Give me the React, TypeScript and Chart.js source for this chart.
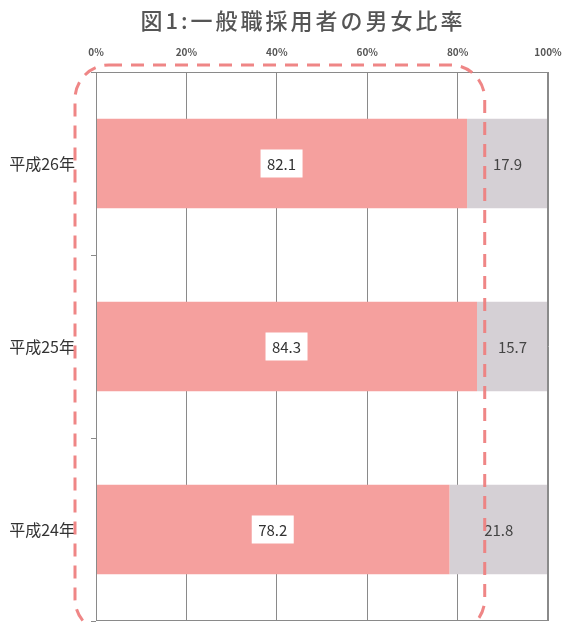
import React, { useEffect, useRef } from "react";
import { Chart, registerables } from "chart.js";

Chart.register(...registerables);

const titleText = "図1:一般職採用者の男女比率";
const categories = ["平成26年", "平成25年", "平成24年"];
const maleValues = [82.1, 84.3, 78.2];
const femaleValues = [17.9, 15.7, 21.8];
const xTickValues = [0, 20, 40, 60, 80, 100];

const FONT = '"Noto Sans CJK JP", "Noto Sans", sans-serif';

const zeroPad = (scale: any) => {
  scale.paddingLeft = 0;
  scale.paddingRight = 0;
  scale.paddingTop = 0;
  scale.paddingBottom = 0;
};

const decorPlugin = {
  id: "decor",
  afterDraw(chart: any) {
    const { ctx, chartArea } = chart;
    const xs = chart.scales.x;
    // title
    ctx.save();
    ctx.fillStyle = "#555";
    ctx.font = `500 22px ${FONT}`;
    ctx.textAlign = "center";
    ctx.textBaseline = "middle";
    try { (ctx as any).letterSpacing = "3px"; } catch (e) {}
    ctx.fillText(titleText, 303, 21);
    ctx.restore();

    // plot border
    ctx.save();
    ctx.strokeStyle = "#8a8a8a";
    ctx.lineWidth = 1;
    ctx.strokeRect(chartArea.left + 0.5, chartArea.top + 0.5, chartArea.right - chartArea.left - 1, chartArea.bottom - chartArea.top - 1);
    ctx.restore();

    // data labels
    const m0 = chart.getDatasetMeta(0);
    const m1 = chart.getDatasetMeta(1);
    ctx.save();
    ctx.font = `15px ${FONT}`;
    ctx.textAlign = "center";
    ctx.textBaseline = "middle";
    m0.data.forEach((bar: any, i: number) => {
      const cx = (xs.getPixelForValue(0) + bar.x) / 2;
      const cy = bar.y;
      ctx.fillStyle = "#ffffff";
      ctx.fillRect(cx - 21, cy - 14, 42, 28);
      ctx.fillStyle = "#333";
      ctx.fillText(maleValues[i].toFixed(1), cx, cy + 1);
    });
    m1.data.forEach((bar: any, i: number) => {
      const start = xs.getPixelForValue(maleValues[i]);
      const cx = (start + bar.x) / 2;
      ctx.fillStyle = "#444";
      ctx.fillText(femaleValues[i].toFixed(1), cx, bar.y + 1);
    });
    ctx.restore();

    // dashed highlight outline
    const left = chartArea.left - 21;
    const top = chartArea.top - 7;
    const right = xs.getPixelForValue(86);
    const bottom = chartArea.bottom + 12;
    const r = 34;
    ctx.save();
    ctx.strokeStyle = "rgba(238,128,128,0.95)";
    ctx.lineWidth = 3;
    ctx.setLineDash([13, 9]);
    ctx.beginPath();
    ctx.moveTo(left + r, top);
    ctx.arcTo(right, top, right, bottom, r);
    ctx.arcTo(right, bottom, left, bottom, r);
    ctx.arcTo(left, bottom, left, top, r);
    ctx.arcTo(left, top, right, top, r);
    ctx.closePath();
    ctx.stroke();
    ctx.restore();
  },
};

export default function App() {
  const ref = useRef<HTMLCanvasElement | null>(null);
  useEffect(() => {
    if (!ref.current) return;
    const chart = new Chart(ref.current, {
      type: "bar",
      data: {
        labels: categories,
        datasets: [
          {
            label: "男性",
            data: maleValues,
            backgroundColor: "#f5a09e",
            borderWidth: 0,
            barPercentage: 0.49,
            categoryPercentage: 1,
          },
          {
            label: "女性",
            data: femaleValues,
            backgroundColor: "#d5d0d5",
            borderWidth: 0,
            barPercentage: 0.49,
            categoryPercentage: 1,
          },
        ],
      },
      options: {
        indexAxis: "y",
        animation: false,
        responsive: false,
        maintainAspectRatio: false,
        layout: { padding: { top: 0, left: 0, right: 16, bottom: 2 } },
        plugins: {
          legend: { display: false },
          title: { display: false },
          tooltip: { enabled: false },
        },
        scales: {
          x: {
            position: "top",
            stacked: true,
            min: 0,
            max: 100,
            afterBuildTicks: (scale: any) => {
              scale.ticks = xTickValues.map((v) => ({ value: v }));
            },
            afterFit: (scale: any) => {
              scale.height = 72;
              zeroPad(scale);
            },
            grid: { color: "#8a8a8a", lineWidth: 1, drawTicks: false },
            border: { display: false },
            ticks: {
              padding: 14,
              color: "#555",
              font: { family: FONT, size: 10, weight: "bold" },
              callback: (v: any) => v + "%",
            },
          },
          y: {
            stacked: true,
            afterFit: (scale: any) => {
              scale.width = 96;
              zeroPad(scale);
            },
            grid: {
              offset: true,
              drawOnChartArea: false,
              drawTicks: true,
              tickLength: 5,
              color: "#8a8a8a",
            },
            border: { display: false },
            ticks: {
              padding: 16,
              color: "#333",
              font: { family: FONT, size: 16 },
            },
          },
        },
      },
      plugins: [decorPlugin],
    });
    return () => chart.destroy();
  }, []);
  return (
    <div style={{ position: "fixed", left: 0, top: 0, width: 564, height: 623, background: "#fff" }}>
      <canvas ref={ref} width={564} height={623} style={{ display: "block" }} />
    </div>
  );
}
